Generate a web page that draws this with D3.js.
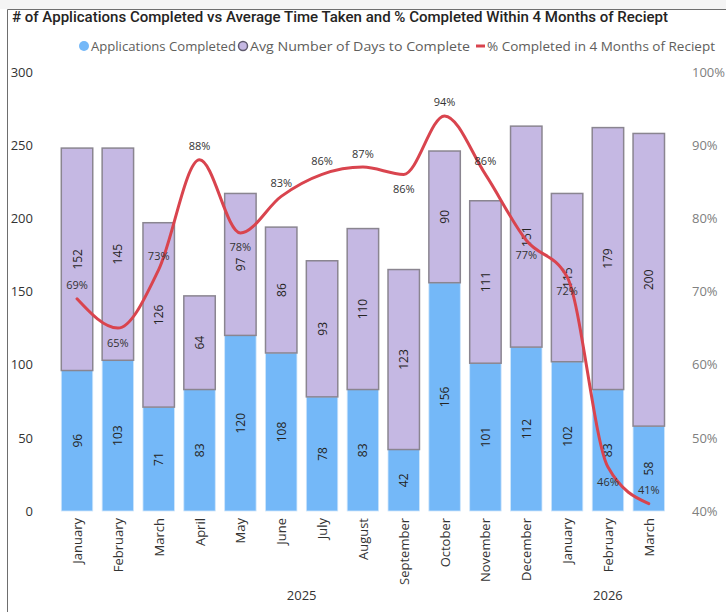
<!DOCTYPE html>
<html><head><meta charset="utf-8">
<script src="https://cdn.jsdelivr.net/npm/d3@7"></script>
<style>
html,body{margin:0;padding:0;background:#fff;}
svg{display:block;font-family:"Open Sans","Segoe UI",sans-serif;}
</style></head>
<body><svg id="chart" width="726" height="612"></svg>
<script>
const months = ["January","February","March","April","May","June","July","August","September","October","November","December","January","February","March"];
const years = ["2025","2025","2025","2025","2025","2025","2025","2025","2025","2025","2025","2025","2026","2026","2026"];
const applicationsCompleted = [96,103,71,83,120,108,78,83,42,156,101,112,102,83,58];
const avgDaysToComplete = [152,145,126,64,97,86,93,110,123,90,111,151,115,179,200];
const pctWithin4Months = [0.69,0.65,0.73,0.88,0.78,0.83,0.86,0.87,0.86,0.94,0.86,0.77,0.72,0.46,0.41];
const pctLabelSide = ["above","below","above","above","below","above","above","above","below","above","above","below","below","below","above"];
const leftTicks = [0,50,100,150,200,250,300];
const rightTicks = [0.4,0.5,0.6,0.7,0.8,0.9,1.0];

(function(){
const svg = d3.select("#chart");
const W = 726, H = 612;
const plotTop = 72, plotBottom = 511;

// frame
svg.append("rect").attr("x",0).attr("y",0).attr("width",W).attr("height",9).attr("fill","#f4f4f4");
svg.append("path").attr("d",`M7.5,${H} V9.5 H${W}`).attr("fill","none").attr("stroke","#6e6e6e").attr("stroke-width",1);

// title
svg.append("text").attr("x",12).attr("y",22)
  .attr("font-size",14.5).attr("font-weight",500).attr("fill","#252423")
  .attr("font-family","Roboto, 'Open Sans', sans-serif")
  .attr("textLength",656).attr("lengthAdjust","spacingAndGlyphs")
  .text("# of Applications Completed vs Average Time Taken and % Completed Within 4 Months of Reciept");

const idx = d3.range(months.length);
const x = d3.scaleBand().domain(idx).range([56.6, 669.2]).paddingInner(0.23).paddingOuter(0.115);
const yL = d3.scaleLinear().domain([0,300]).range([plotBottom, plotTop]);
const yR = d3.scaleLinear().domain([0.4,1.0]).range([plotBottom, plotTop]);

// legend
const lg = svg.append("g").attr("font-size",13.5).attr("fill","#605e5c");
lg.append("circle").attr("cx",84).attr("cy",46).attr("r",5).attr("fill","#74b8f8");
lg.append("text").attr("x",91).attr("y",51).attr("textLength",145).attr("lengthAdjust","spacingAndGlyphs").text("Applications Completed");
lg.append("circle").attr("cx",243).attr("cy",46).attr("r",4.5).attr("fill","#c5b8e3").attr("stroke","#5f5a6e").attr("stroke-width",1.5);
lg.append("text").attr("x",250).attr("y",51).attr("textLength",220).attr("lengthAdjust","spacingAndGlyphs").text("Avg Number of Days to Complete");
lg.append("line").attr("x1",476).attr("x2",485).attr("y1",46).attr("y2",46).attr("stroke","#d9444e").attr("stroke-width",3);
lg.append("text").attr("x",487).attr("y",51).attr("textLength",228).attr("lengthAdjust","spacingAndGlyphs").text("% Completed in 4 Months of Reciept");

// left axis
const axL = svg.append("g").attr("transform","translate(33,0)")
  .call(d3.axisLeft(yL).tickValues(leftTicks).tickSize(0).tickPadding(0));
axL.select(".domain").remove();
axL.selectAll("text").attr("font-size",13).attr("fill","#333").attr("font-family","'Open Sans',sans-serif");

// right axis
const axR = svg.append("g").attr("transform","translate(692,0)")
  .call(d3.axisRight(yR).tickValues(rightTicks).tickFormat(d3.format(".0%")).tickSize(0).tickPadding(0));
axR.select(".domain").remove();
axR.selectAll("text").attr("font-size",13).attr("fill","#808080").attr("font-family","'Open Sans',sans-serif");

// bars
const bars = svg.append("g");
bars.selectAll("rect.app").data(idx).join("rect").attr("class","app")
  .attr("x",i=>x(i)).attr("width",x.bandwidth())
  .attr("y",i=>yL(applicationsCompleted[i])).attr("height",i=>yL(0)-yL(applicationsCompleted[i]))
  .attr("fill","#74b8f8").attr("stroke","#cfe6fb").attr("stroke-width",0.8);
bars.selectAll("rect.days").data(idx).join("rect").attr("class","days")
  .attr("x",i=>x(i)).attr("width",x.bandwidth())
  .attr("y",i=>yL(applicationsCompleted[i]+avgDaysToComplete[i]))
  .attr("height",i=>yL(applicationsCompleted[i])-yL(applicationsCompleted[i]+avgDaysToComplete[i]))
  .attr("fill","#c5b8e3").attr("stroke","#8a8590").attr("stroke-width",1.5);

// bar labels
const bl = svg.append("g").attr("font-size",12).attr("fill","#252423");
bl.selectAll("text.a").data(idx).join("text").attr("class","a")
  .attr("text-anchor","middle").attr("dominant-baseline","central")
  .attr("transform",i=>`translate(${x(i)+x.bandwidth()/2},${yL(applicationsCompleted[i]/2)}) rotate(-90)`)
  .text(i=>applicationsCompleted[i]);
bl.selectAll("text.d").data(idx).join("text").attr("class","d")
  .attr("text-anchor","middle").attr("dominant-baseline","central")
  .attr("transform",i=>`translate(${x(i)+x.bandwidth()/2},${yL(applicationsCompleted[i]+avgDaysToComplete[i]/2)}) rotate(-90)`)
  .text(i=>avgDaysToComplete[i]);

// line
const cx = i => x(i)+x.bandwidth()/2;
const line = d3.line().x(i=>cx(i)).y(i=>yR(pctWithin4Months[i])).curve(d3.curveMonotoneX);
svg.append("path").datum(idx).attr("d",line).attr("fill","none")
  .attr("stroke","#d9444e").attr("stroke-width",3).attr("stroke-linecap","round");

// line labels
svg.append("g").attr("font-size",11).attr("fill","#333")
  .selectAll("text").data(idx).join("text")
  .attr("text-anchor","middle").attr("dominant-baseline","central")
  .attr("x",i=>cx(i))
  .attr("y",i=>yR(pctWithin4Months[i]) + (pctLabelSide[i]==="above"?-14:14))
  .text(i=>d3.format(".0%")(pctWithin4Months[i]));

// x labels
svg.append("g").attr("font-size",13).attr("fill","#333")
  .selectAll("text").data(idx).join("text")
  .attr("text-anchor","end").attr("dominant-baseline","central")
  .attr("transform",i=>`translate(${cx(i)},518) rotate(-90)`)
  .text(i=>months[i]);

// year labels
const yearGroups = d3.groups(idx, i=>years[i]);
svg.append("g").attr("font-size",13).attr("fill","#333")
  .selectAll("text").data(yearGroups).join("text")
  .attr("text-anchor","middle")
  .attr("x",g=>(cx(g[1][0])+cx(g[1][g[1].length-1]))/2)
  .attr("y",600)
  .text(g=>g[0]);
})();
</script></body></html>
